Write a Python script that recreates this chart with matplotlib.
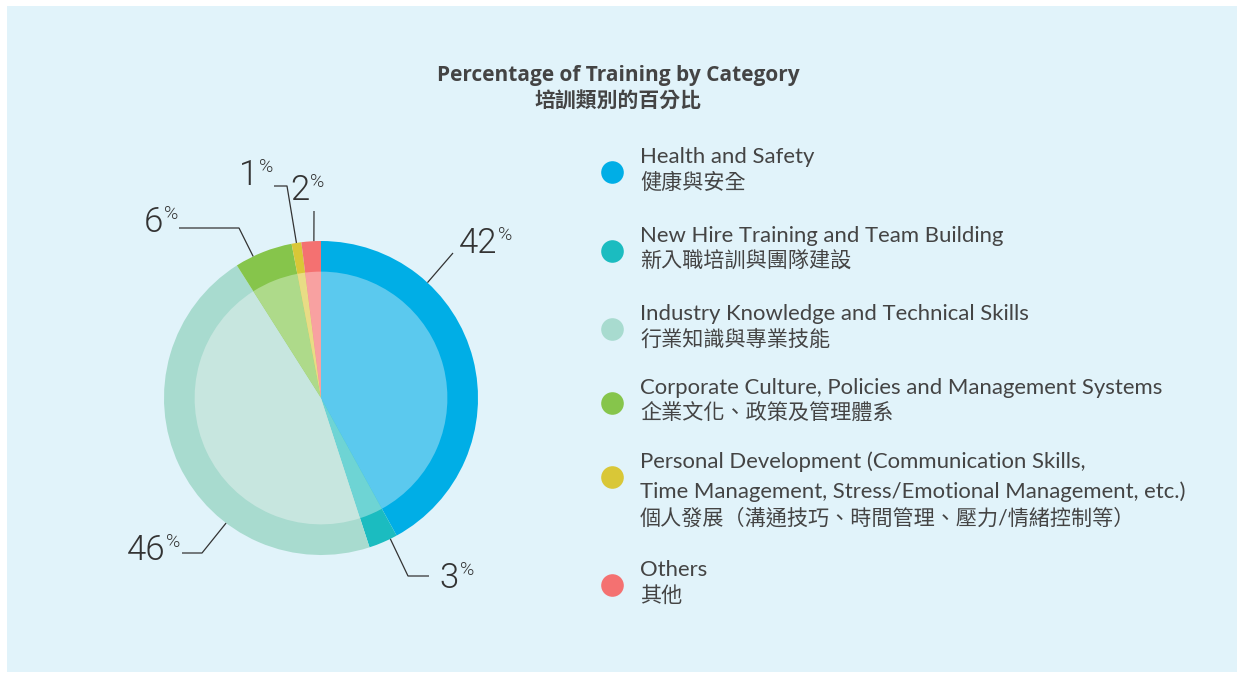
import matplotlib
matplotlib.use("Agg")
import matplotlib.pyplot as plt
import numpy as np
from matplotlib.patches import Rectangle

plt.rcParams['font.family'] = ['Lato', 'Noto Sans CJK TC', 'DejaVu Sans']

# training mix, clockwise from 12 o'clock
categories_en = ["Health and Safety",
                 "New Hire Training and Team Building",
                 "Industry Knowledge and Technical Skills",
                 "Corporate Culture, Policies and Management Systems",
                 "Personal Development (Communication Skills,\nTime Management, Stress/Emotional Management, etc.)",
                 "Others"]
categories_zh = ["健康與安全", "新入職培訓與團隊建設", "行業知識與專業技能",
                 "企業文化、政策及管理體系",
                 "個人發展（溝通技巧、時間管理、壓力/情緒控制等）", "其他"]
shares = [42, 3, 46, 6, 1, 2]

outer_colors = ["#00AEE6", "#1BBCC0", "#A8DBCF", "#86C54B", "#D9C737", "#F47171"]
inner_colors = ["#5BC9EE", "#6ED4D4", "#C7E6DF", "#AEDA8A", "#E8DC85", "#F8A1A1"]

W, H = 1237, 674
fig = plt.figure(figsize=(W / 100, H / 100), dpi=100)
fig.patch.set_facecolor("white")
ax = fig.add_axes([0, 0, 1, 1])

ax.add_patch(Rectangle((7, 2), W - 7, H - 8, facecolor="#E1F3FA", edgecolor="none", zorder=0))

cx, cy, R = 321, 276, 157
ax.pie(shares, colors=outer_colors, startangle=90, counterclock=False,
       radius=R, center=(cx, cy), wedgeprops=dict(linewidth=0), frame=True)
ax.pie(shares, colors=inner_colors, startangle=90, counterclock=False,
       radius=R * 0.805, center=(cx, cy), wedgeprops=dict(linewidth=0), frame=True)
ax.set_xlim(0, W)
ax.set_ylim(0, H)
ax.set_aspect("equal")
ax.axis("off")

txt = "#333333"
num_font = ['Roboto', 'DejaVu Sans']


def on_rim(angle):
    a = np.radians(angle)
    return cx + R * np.sin(a), cy + R * np.cos(a)


# leader lines: rim angle (deg clockwise from top), path after the rim, number anchor
leaders = [
    (42.7, [(453, 421)], (497, 421)),
    (153.8, [(408, 98), (429, 98)], (459, 86)),
    (217.2, [(202, 121), (182, 121)], (165, 114)),
    (334.4, [(239, 446), (179, 446)], (163, 442)),
    (351.0, [(287, 488), (274, 488)], (258, 489)),
    (357.4, [(314, 463)], (309, 474)),
]
for share, (ang, path, (tx, ty)) in zip(shares, leaders):
    x0, y0 = on_rim(ang)
    xs = [x0] + [p[0] for p in path]
    ys = [y0] + [p[1] for p in path]
    ax.plot(xs, ys, color=txt, lw=0.9, solid_capstyle="butt")
    ax.text(tx, ty, str(share), fontsize=25, fontweight=300, family=num_font,
            color=txt, ha="right", va="baseline")
    ax.text(tx + 1, ty + 27, "%", fontsize=14, fontweight=300, family=num_font,
            color=txt, ha="left", va="top")

# title
ax.text(618, H - 76, "Percentage of Training by Category", fontsize=15,
        fontweight="bold", family=['Open Sans', 'Noto Sans CJK TC'],
        color="#444444", ha="center", va="center")
ax.text(618, H - 101, "培訓類別的百分比", fontsize=15, fontweight="bold",
        color="#444444", ha="center", va="center")

# legend
dot_y = [172, 251, 329, 403, 477, 585]
for i, (en, zh, col) in enumerate(zip(categories_en, categories_zh, outer_colors)):
    yd = H - dot_y[i]
    ax.scatter([612], [yd], s=265, color=col, linewidths=0, zorder=3)
    lines = en.split("\n")
    top = yd + 15
    for j, ln in enumerate(lines):
        ax.text(640, top - j * 30, ln, fontsize=15.9, color="#444444",
                ha="left", va="center")
    ax.text(640, top - (len(lines) - 1) * 30 - 26, zh, fontsize=15.2,
            color="#444444", ha="left", va="center")

fig.savefig("out.png", dpi=100, facecolor="white")
